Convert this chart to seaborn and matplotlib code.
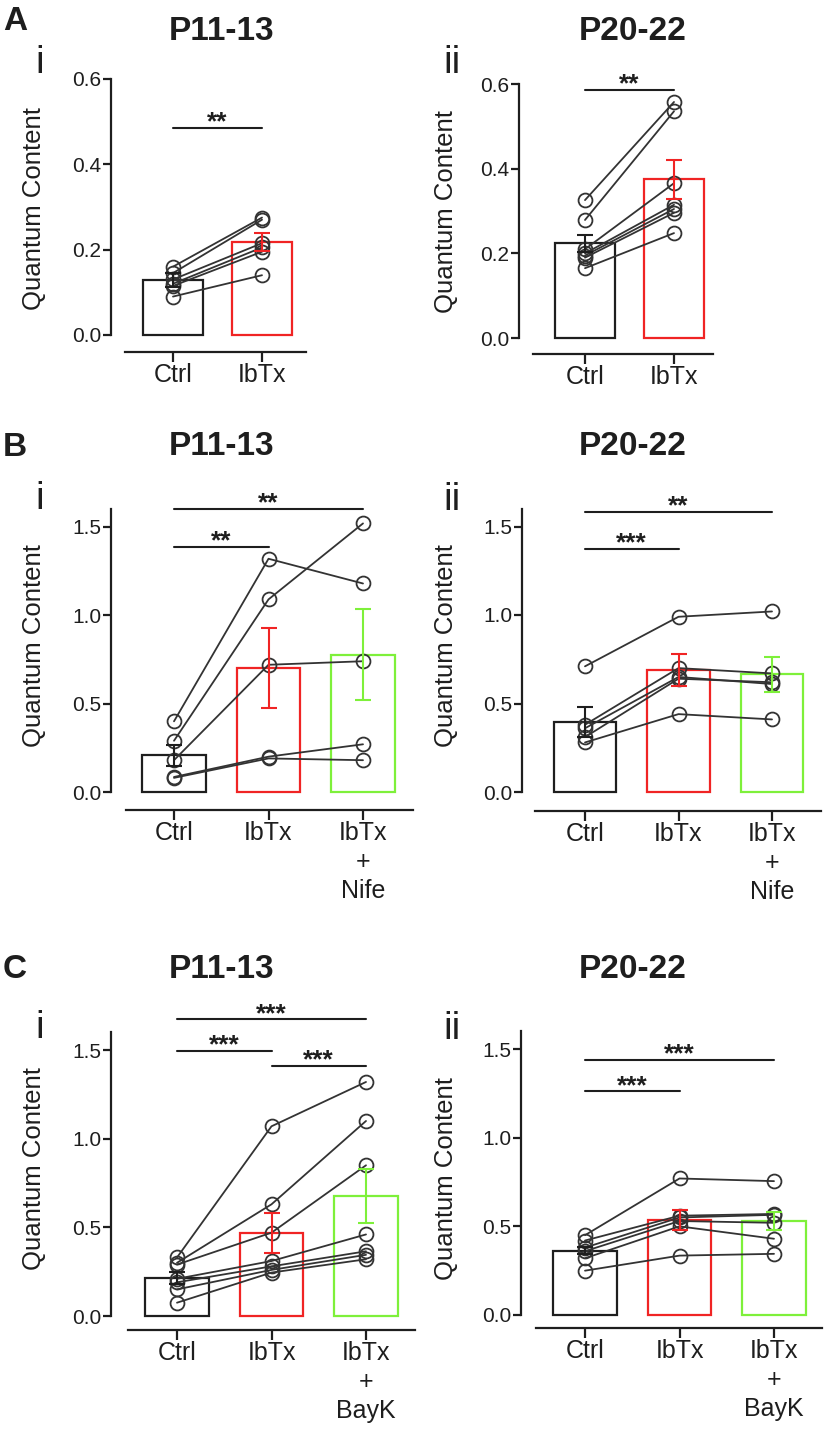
import numpy as np
import pandas as pd
import seaborn as sns
import matplotlib.pyplot as plt

sns.set_theme(style='ticks')
plt.rcParams['font.family'] = ['Liberation Sans', 'DejaVu Sans']

# ---- data ----
cond_ab = ['Ctrl', 'IbTx']
cond_nife = ['Ctrl', 'IbTx', 'IbTx\n+\nNife']
cond_bayk = ['Ctrl', 'IbTx', 'IbTx\n+\nBayK']

# A i  (P11-13)
ai_ctrl = [0.16, 0.145, 0.13, 0.12, 0.115, 0.09]
ai_ibtx = [0.275, 0.27, 0.215, 0.205, 0.195, 0.14]
ai_mean = [0.129, 0.217]
ai_sem = [0.016, 0.021]

# A ii (P20-22)
aii_ctrl = [0.326, 0.279, 0.21, 0.20, 0.195, 0.19, 0.165]
aii_ibtx = [0.558, 0.536, 0.366, 0.315, 0.305, 0.296, 0.248]
aii_mean = [0.224, 0.375]
aii_sem = [0.020, 0.046]

# B i  (P11-13, nifedipine)
bi_ctrl = [0.40, 0.29, 0.18, 0.085, 0.08]
bi_ibtx = [1.32, 1.09, 0.72, 0.20, 0.19]
bi_nife = [1.18, 1.52, 0.74, 0.27, 0.18]
bi_mean = [0.207, 0.702, 0.776]
bi_sem = [0.06, 0.228, 0.257]

# B ii (P20-22, nifedipine)
bii_ctrl = [0.71, 0.38, 0.36, 0.31, 0.28]
bii_ibtx = [0.99, 0.70, 0.65, 0.64, 0.44]
bii_nife = [1.02, 0.67, 0.61, 0.62, 0.41]
bii_mean = [0.396, 0.689, 0.664]
bii_sem = [0.085, 0.09, 0.098]

# C i  (P11-13, BayK)
ci_ctrl = [0.33, 0.30, 0.29, 0.21, 0.19, 0.15, 0.075]
ci_ibtx = [1.07, 0.63, 0.47, 0.31, 0.28, 0.26, 0.245]
ci_bayk = [1.32, 1.10, 0.85, 0.46, 0.365, 0.345, 0.32]
ci_mean = [0.216, 0.466, 0.677]
ci_sem = [0.034, 0.113, 0.154]

# C ii (P20-22, BayK)
cii_ctrl = [0.45, 0.42, 0.38, 0.36, 0.32, 0.25]
cii_ibtx = [0.77, 0.56, 0.55, 0.53, 0.50, 0.335]
cii_bayk = [0.755, 0.57, 0.565, 0.52, 0.43, 0.345]
cii_mean = [0.363, 0.538, 0.530]
cii_sem = [0.02, 0.056, 0.053]

# significance bars: (from, to, height, label)
ai_sig = [(0, 1, 0.484, '**')]
aii_sig = [(0, 1, 0.586, '**')]
bi_sig = [(0, 2, 1.60, '**'), (0, 1, 1.387, '**')]
bii_sig = [(0, 2, 1.583, '**'), (0, 1, 1.372, '***')]
ci_sig = [(0, 2, 1.673, '***'), (0, 1, 1.494, '***'), (1, 2, 1.41, '***')]
cii_sig = [(0, 2, 1.438, '***'), (0, 1, 1.261, '***')]

bar_colors = ['#1e1e1e', '#f02424', '#7ef03a']
line_color = '#333333'

W, H = 826, 1438
fig = plt.figure(figsize=(W / 100, H / 100), dpi=100)


def make_axes(spine_x, x0, dx, y0, ppu, xline, xline_left, xright, ytop):
    # pixel layout -> axes in figure coords
    top = y0 - ytop * ppu
    ax = fig.add_axes([spine_x / W, 1 - xline / H, (xright - spine_x) / W, (xline - top) / H])
    ax.set_xlim((spine_x - x0) / dx, (xright - x0) / dx)
    ax.set_ylim(-(xline - y0) / ppu, ytop)
    return ax


def draw_panel(ax, conds, groups, means, sems, sigs, ticks, spine_top, xline_left, x0, dx,
               ylab_px, ylab_py, spine_x, xline):
    n = len(conds)
    # bars
    sns.barplot(x=list(range(n)), y=means, hue=list(range(n)), palette=bar_colors[:n],
                fill=False, width=0.67, linewidth=1.6, errorbar=None, legend=False,
                native_scale=True, ax=ax)
    # paired lines + open circles
    rows = []
    for ci, vals in enumerate(groups):
        for s, v in enumerate(vals):
            rows.append({'subj': s, 'pos': ci, 'qc': v})
    df = pd.DataFrame(rows)
    sns.lineplot(data=df, x='pos', y='qc', units='subj', estimator=None, color=line_color,
                 linewidth=1.3, marker='o', markersize=10, markerfacecolor='none',
                 markeredgecolor=line_color, markeredgewidth=1.3, ax=ax, zorder=3)
    # error bars
    for i in range(n):
        ax.errorbar([i], [means[i]], yerr=[sems[i]], fmt='none', ecolor=bar_colors[i],
                    elinewidth=1.5, capsize=5.5, capthick=1.5, zorder=5)
    # significance
    for a, b, y, lab in sigs:
        ax.plot([a, b], [y, y], color='#1e1e1e', lw=1.5, clip_on=False)
        ax.annotate(lab, xy=((a + b) / 2, y), xytext=(0, 4), textcoords='offset points',
                    ha='center', va='center', fontsize=19, fontweight='bold', color='#1e1e1e',
                    annotation_clip=False)
    # axes styling
    sns.despine(ax=ax)
    ax.spines['left'].set_bounds(0, spine_top)
    ax.spines['bottom'].set_bounds((xline_left - x0) / dx, ax.get_xlim()[1])
    for sp in ['left', 'bottom']:
        ax.spines[sp].set_linewidth(1.6)
        ax.spines[sp].set_color('#1e1e1e')
    ax.set_yticks(ticks)
    ax.set_yticklabels([f'{t:.1f}' for t in ticks])
    ax.set_xticks(range(n))
    ax.set_xticklabels(conds, linespacing=1.25)
    ax.tick_params(axis='y', length=6, width=1.6, pad=1, labelsize=15, colors='#1e1e1e')
    ax.tick_params(axis='x', length=7, width=1.6, pad=1, labelsize=18, colors='#1e1e1e')
    ax.set_xlabel('')
    ax.set_ylabel('Quantum Content', fontsize=18.5, color='#1e1e1e')
    aw = ax.get_position().width * W
    ah = ax.get_position().height * H
    ax.yaxis.set_label_coords((ylab_px - spine_x) / aw, (xline - ylab_py) / ah)


panels = [
    # layout px: spine_x, x0, dx, y0, ppu, xline, xline_left, xright, ytop; then spine_top, ylab x, ylab y
    (dict(spine_x=111, x0=173, dx=89, y0=335, ppu=427, xline=352, xline_left=125, xright=306,
          ytop=0.62), 0.6, 46, 209, cond_ab, [ai_ctrl, ai_ibtx], ai_mean, ai_sem, ai_sig,
     [0.0, 0.2, 0.4, 0.6]),
    (dict(spine_x=519, x0=585, dx=89, y0=338, ppu=423, xline=354, xline_left=533, xright=713,
          ytop=0.62), 0.6, 458, 212, cond_ab, [aii_ctrl, aii_ibtx], aii_mean, aii_sem, aii_sig,
     [0.0, 0.2, 0.4, 0.6]),
    (dict(spine_x=111, x0=174, dx=94.5, y0=792, ppu=176.7, xline=810, xline_left=126, xright=413,
          ytop=1.62), 1.6, 46, 646, cond_nife, [bi_ctrl, bi_ibtx, bi_nife], bi_mean, bi_sem,
     bi_sig, [0.0, 0.5, 1.0, 1.5]),
    (dict(spine_x=522, x0=585, dx=93.5, y0=792, ppu=177, xline=811, xline_left=535, xright=821,
          ytop=1.62), 1.6, 458, 646, cond_nife, [bii_ctrl, bii_ibtx, bii_nife], bii_mean, bii_sem,
     bii_sig, [0.0, 0.5, 1.0, 1.5]),
    (dict(spine_x=111, x0=177, dx=94.5, y0=1316, ppu=177.3, xline=1330, xline_left=128, xright=415,
          ytop=1.62), 1.6, 46, 1169, cond_bayk, [ci_ctrl, ci_ibtx, ci_bayk], ci_mean, ci_sem,
     ci_sig, [0.0, 0.5, 1.0, 1.5]),
    (dict(spine_x=521, x0=585, dx=94.5, y0=1315, ppu=177.3, xline=1328, xline_left=536, xright=822,
          ytop=1.62), 1.6, 458, 1179, cond_bayk, [cii_ctrl, cii_ibtx, cii_bayk], cii_mean, cii_sem,
     cii_sig, [0.0, 0.5, 1.0, 1.5]),
]

for lay, spine_top, lx, ly, conds, groups, means, sems, sigs, ticks in panels:
    ax = make_axes(**lay)
    draw_panel(ax, conds, groups, means, sems, sigs, ticks, spine_top, lay['xline_left'],
               lay['x0'], lay['dx'], lx, ly, lay['spine_x'], lay['xline'])


def ftext(px, py, s, **kw):
    fig.text(px / W, 1 - py / H, s, color='#1e1e1e', **kw)


# titles, panel letters, roman numerals
for py in [31.5, 446.5, 969.5]:
    ftext(222, py, 'P11-13', ha='center', va='center', fontsize=24, fontweight='bold')
    ftext(633, py, 'P20-22', ha='center', va='center', fontsize=24, fontweight='bold')
for s, py in [('A', 21), ('B', 447), ('C', 970)]:
    ftext(3, py, s, ha='left', va='center', fontsize=24, fontweight='bold')
for s, px, py in [('i', 40, 63), ('ii', 452, 63), ('i', 40, 499), ('ii', 452, 500),
                  ('i', 40, 1028), ('ii', 452, 1029)]:
    ftext(px, py, s, ha='center', va='center', fontsize=28)

fig.savefig('out.png', dpi=100)
